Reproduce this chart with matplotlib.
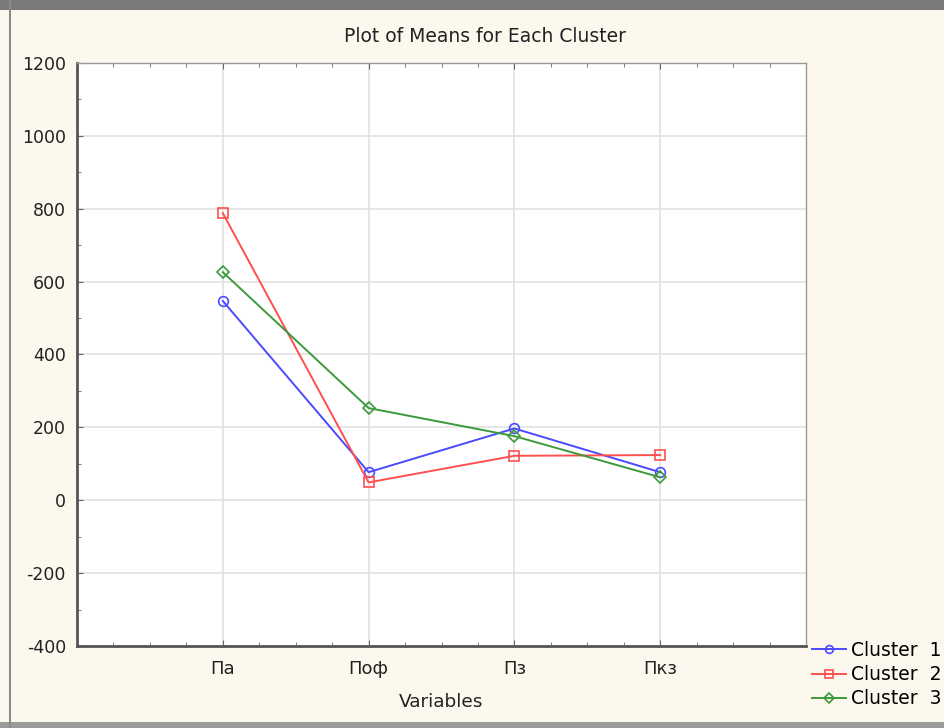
import matplotlib
matplotlib.use("Agg")
from matplotlib import pyplot as plt
from matplotlib.patches import Rectangle
from matplotlib.ticker import MultipleLocator

# -- data --

variables = ["Па", "Поф", "Пз", "Пкз"]
cluster_1 = [547, 77, 197, 77]
cluster_2 = [788, 49, 122, 124]
cluster_3 = [626, 253, 176, 63]

series = [
    ("Cluster  1", cluster_1, "#4a4aff", "o"),
    ("Cluster  2", cluster_2, "#ff4f4f", "s"),
    ("Cluster  3", cluster_3, "#3c9a3c", "D"),
]

# -- figure --

plt.rcParams["font.family"] = ["DejaVu Sans"]
plt.rcParams["axes.unicode_minus"] = False
bg = "#fdf8ee"
ink = "#222222"

fig = plt.figure(figsize=(9.44, 7.28), dpi=100, facecolor=bg)

# window frame of the screenshot
fig.patches.append(Rectangle((0, 1 - 10 / 728), 1, 10 / 728, transform=fig.transFigure,
                             facecolor="#7a7a7a", edgecolor="none", zorder=0))
fig.patches.append(Rectangle((0, 0), 1, 6 / 728, transform=fig.transFigure,
                             facecolor="#9a9a9a", edgecolor="none", zorder=0))
fig.patches.append(Rectangle((9 / 944, 0), 2 / 944, 1, transform=fig.transFigure,
                             facecolor="#8a8a8a", edgecolor="none", zorder=0))

ax = fig.add_axes([77 / 944, 1 - 646 / 728, (806 - 77) / 944, (646 - 63) / 728])
ax.set_facecolor("white")

x = list(range(1, len(variables) + 1))
for label, values, color, marker in series:
    ax.plot(x, values, color=color, lw=1.4, marker=marker,
            ms=7 if marker != "D" else 6, mfc="none", mec=color, mew=1.2, label=label)

ax.set_xlim(0, 5)
ax.set_ylim(-400, 1200)
ax.set_xticks(x)
ax.set_xticklabels(variables)
ax.xaxis.set_minor_locator(MultipleLocator(0.25))
ax.yaxis.set_major_locator(MultipleLocator(200))
ax.yaxis.set_minor_locator(MultipleLocator(100))

ax.grid(True, which="major", color="#e2e2e2", lw=1.2, zorder=0)
ax.set_axisbelow(True)

ax.tick_params(which="both", direction="in", top=True, right=False, color="#666666",
               labelcolor=ink)
ax.tick_params(axis="y", labelsize=12.5, pad=8)
ax.tick_params(axis="x", labelsize=13, pad=10)
ax.tick_params(which="major", length=4)
ax.tick_params(which="minor", length=3)

for side in ["top", "right"]:
    ax.spines[side].set_color("#9a9a9a")
    ax.spines[side].set_linewidth(1.0)
for side in ["left", "bottom"]:
    ax.spines[side].set_color("#555555")
    ax.spines[side].set_linewidth(2.0)

ax.set_xlabel("Variables", fontsize=13.3, color=ink, labelpad=11)
fig.text(485 / 944, 1 - 37 / 728, "Plot of Means for Each Cluster",
         ha="center", va="center", fontsize=13.5, color=ink)

fig.legend(loc="upper left", bbox_to_anchor=(812 / 944, 1 - 641 / 728),
           frameon=False, fontsize=13.5, handlelength=1.8, handletextpad=0.3,
           labelspacing=0.27, borderaxespad=0, borderpad=0, markerscale=0.8)

fig.savefig("out.png", dpi=100, facecolor=bg)
